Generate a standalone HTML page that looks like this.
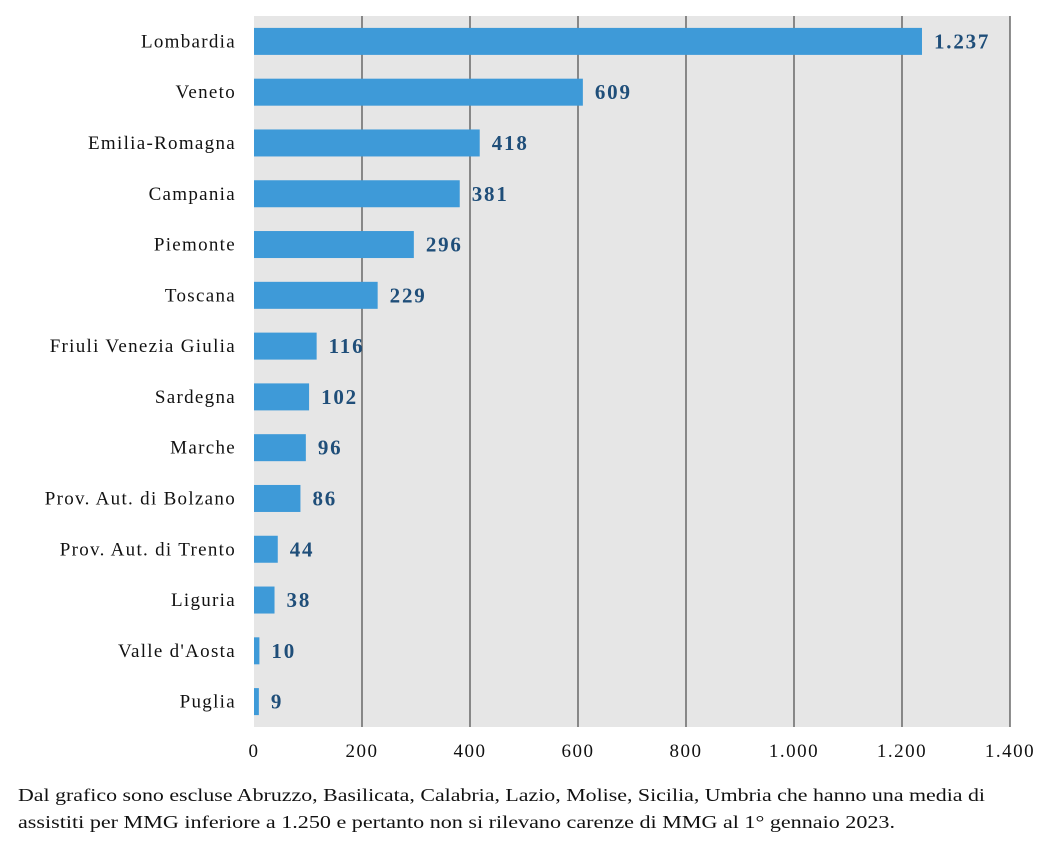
<!DOCTYPE html>
<html><head><meta charset="utf-8"><style>
body{margin:0;background:#fff;width:1051px;height:840px;overflow:hidden;font-family:"Liberation Serif",serif}
svg text{font-family:"Liberation Serif",serif}
</style></head><body>
<svg id="chart" width="1051" height="840">
<rect x="254" y="16" width="756" height="711" fill="#e6e6e6"/>
<g id="grid"></g><g id="bars"></g><g id="labels"></g><g id="ticks"></g>
<text x="18" y="801" font-size="18" fill="#111" textLength="967" lengthAdjust="spacingAndGlyphs">Dal grafico sono escluse Abruzzo, Basilicata, Calabria, Lazio, Molise, Sicilia, Umbria che hanno una media di</text>
<text x="18" y="828" font-size="18" fill="#111" textLength="877" lengthAdjust="spacingAndGlyphs">assistiti per MMG inferiore  a 1.250 e pertanto non si rilevano carenze di MMG al 1° gennaio 2023.</text>
</svg>
<script>
const categories=["Lombardia","Veneto","Emilia-Romagna","Campania","Piemonte","Toscana","Friuli Venezia Giulia","Sardegna","Marche","Prov. Aut. di Bolzano","Prov. Aut. di Trento","Liguria","Valle d'Aosta","Puglia"];
const values=[1237,609,418,381,296,229,116,102,96,86,44,38,10,9];
const valueLabels=["1.237","609","418","381","296","229","116","102","96","86","44","38","10","9"];
const tickValues=[0,200,400,600,800,1000,1200,1400];
const tickLabels=["0","200","400","600","800","1.000","1.200","1.400"];
const NS="http://www.w3.org/2000/svg";
const x0=254,x1=1010,plotTop=16,plotBot=727;
const xs=v=>x0+(x1-x0)*v/1400;
const band=(plotBot-plotTop)/categories.length;
const ys=i=>plotTop+band*i+band/2;
function mk(tag,attrs,parent){const e=document.createElementNS(NS,tag);for(const k in attrs)e.setAttribute(k,attrs[k]);document.getElementById(parent).appendChild(e);return e;}
tickValues.forEach((t,i)=>{
 if(i>0){const l=mk('line',{x1:xs(t),x2:xs(t),y1:plotTop,y2:plotBot,stroke:'#555','stroke-width':1.3},'grid');
 
 }
 const tx=mk('text',{x:xs(t),y:757,'text-anchor':'middle','font-size':19,'letter-spacing':1.5,fill:'#111'},'ticks');
 tx.textContent=tickLabels[i];
 
 
});
categories.forEach((c,i)=>{
 const y=ys(i);
 const r=mk('rect',{x:x0,y:y-13.5,width:Math.max(0,xs(values[i])-x0),height:27,fill:'#3e9ad8'},'bars');
 
 
 const l=mk('text',{x:236,y:y+6,'text-anchor':'end','font-size':19,'letter-spacing':1.3,fill:'#111'},'labels');
 l.textContent=c;
 
 
 const v=mk('text',{x:xs(values[i])+12,y:y+7,'font-size':21,'font-weight':'bold','letter-spacing':1.8,fill:'#1f4e79'},'labels');
 v.textContent=valueLabels[i];
 
 
});
</script>
</body></html>
